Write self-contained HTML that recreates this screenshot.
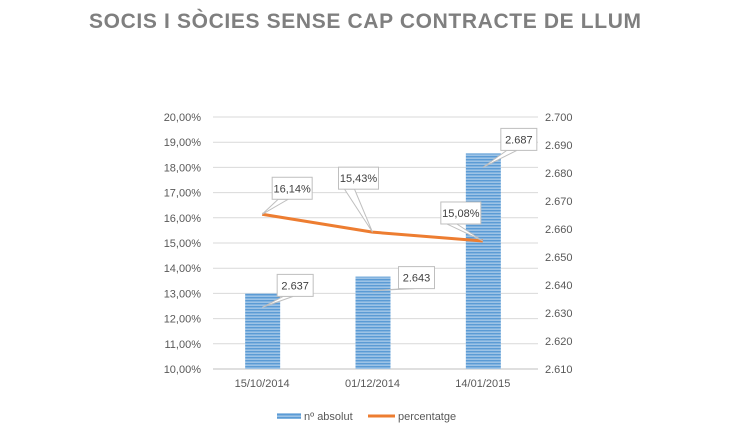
<!DOCTYPE html>
<html><head><meta charset="utf-8"><style>
body{margin:0;background:#fff;}
svg{display:block;font-family:"Liberation Sans",sans-serif;}
</style></head><body>
<svg id="chart" width="730" height="437" viewBox="0 0 730 437">
<defs>
<pattern id="stripes" width="4" height="3" patternUnits="userSpaceOnUse">
<rect width="4" height="3" fill="#9dc3e6"/><rect width="4" height="1.4" fill="#5b9bd5"/>
</pattern>
</defs>
<text x="365" y="28" text-anchor="middle" font-size="21" font-weight="bold" fill="#7f7f7f" textLength="552" lengthAdjust="spacing">SOCIS I SÒCIES SENSE CAP CONTRACTE DE LLUM</text>
<g id="grid"></g>
<g id="bars"></g>
<g id="line"></g>
<g id="labels"></g>
<g id="axes"></g>
<g>
<rect x="277" y="413" width="24" height="6" fill="url(#stripes)"/>
<text x="304" y="420" font-size="11" fill="#595959">nº absolut</text>
<line x1="368" y1="416" x2="395" y2="416" stroke="#ed7d31" stroke-width="3"/>
<text x="398" y="420" font-size="11" fill="#595959">percentatge</text>
</g>
</svg>
<script>
const categories=["15/10/2014","01/12/2014","14/01/2015"];
const absValues=[2637,2643,2687];
const pctValues=[16.14,15.43,15.08];
const leftTicks=[10,11,12,13,14,15,16,17,18,19,20];
const rightTicks=[2610,2620,2630,2640,2650,2660,2670,2680,2690,2700];
const NS="http://www.w3.org/2000/svg";
const X0=213,X1=544,YT=117,YB=369;
const yL=v=>YB-(v-10)/10*(YB-YT);
const yR=v=>YB-(v-2610)/90*(YB-YT);
const band=(X1-X0)/categories.length;
const xC=i=>X0+band*(i+0.5)-6;
function mk(tag,attrs,parent){const e=document.createElementNS(NS,tag);for(const k in attrs)e.setAttribute(k,attrs[k]);parent.appendChild(e);return e;}
const grid=document.getElementById('grid'),bars=document.getElementById('bars'),line=document.getElementById('line'),labels=document.getElementById('labels'),axes=document.getElementById('axes');
leftTicks.forEach(t=>{
 const g=mk('line',{x1:X0,x2:X1-6,y1:yL(t),y2:yL(t),stroke:t===10?'#bfbfbf':'#d9d9d9','stroke-width':1},grid);
 
 
 const tx=mk('text',{x:201,y:yL(t)+4,'text-anchor':'end','font-size':11,fill:'#595959'},axes);
 tx.textContent=t.toFixed(2).replace('.',',')+'%';
 
 
});
rightTicks.forEach(t=>{
 const tx=mk('text',{x:545,y:yR(t)+4,'font-size':11,fill:'#595959'},axes);
 tx.textContent=String(t).replace(/(\d)(\d{3})$/,'$1.$2');
 
 
});
categories.forEach((c,i)=>{
 const tx=mk('text',{x:xC(i),y:387,'text-anchor':'middle','font-size':11,fill:'#595959'},axes);
 tx.textContent=c;
 
 
});
function callout(px,py,bx,by,w,txt,name){
 const g=mk('g',{},labels);
 
 
 mk('polygon',{points:`${px},${py} ${bx+6},${by+22} ${bx+16},${by+22}`,fill:'#fff',stroke:'#bfbfbf'},g);
 mk('rect',{x:bx,y:by,width:w,height:22,fill:'#fff',stroke:'#bfbfbf'},g);
 const t=mk('text',{x:bx+w/2,y:by+15,'text-anchor':'middle','font-size':11,fill:'#404040'},g);
 t.textContent=txt;
}
absValues.forEach((v,i)=>{
 const r=mk('rect',{x:xC(i)-17,y:yR(v),width:35,height:YB-yR(v),fill:'url(#stripes)'},bars);
 
 
});
const pts=pctValues.map((v,i)=>xC(i)+','+yL(v)).join(' ');
const pl=mk('polyline',{points:pts,fill:'none',stroke:'#ed7d31','stroke-width':3,'stroke-linejoin':'round'},line);


const fmtAbs=v=>String(v).replace(/(\d)(\d{3})$/,'$1.$2');
const fmtPct=v=>v.toFixed(2).replace('.',',')+'%';
const absOff=[[15,-19],[26,-10],[18,-25]];
const pctOff=[[10,-37],[-34,-65],[-42,-39]];
absValues.forEach((v,i)=>{const px=xC(i),py=yR(v)+14;callout(px,py,px+absOff[i][0],py+absOff[i][1]-14,36,fmtAbs(v),'abs-label-'+i);});
pctValues.forEach((v,i)=>{const px=xC(i),py=yL(v);callout(px,py,px+pctOff[i][0],py+pctOff[i][1],40,fmtPct(v),'pct-label-'+i);});
</script>
</body></html>
